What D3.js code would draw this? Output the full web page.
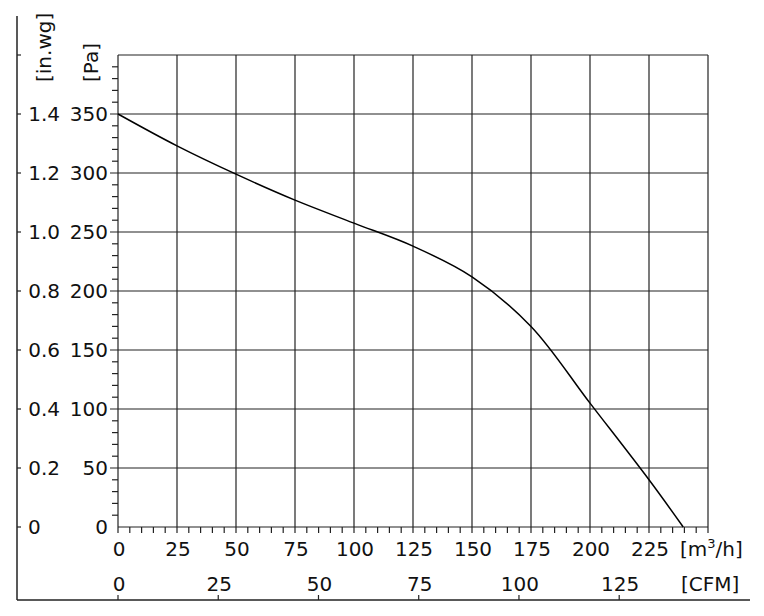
<!DOCTYPE html>
<html>
<head>
<meta charset="utf-8">
<script src="https://cdn.jsdelivr.net/npm/d3@7"></script>
<style>
  body { margin: 0; background: #fff; }
  text { font-family: "DejaVu Sans", Verdana, sans-serif; font-size: 20px; fill: #111; }
</style>
</head>
<body>
<div id="chart"></div>
<script>
// fan curve: airflow [m3/h] and static pressure [Pa]
const flow     = [0, 25, 50, 75, 100, 125, 150, 175, 200, 225, 239.5];
const pressure = [350, 323, 299, 277, 257.5, 238, 212, 170, 105, 40, 0];

const flowTicks  = [0, 25, 50, 75, 100, 125, 150, 175, 200, 225, 250];
const paTicks    = [0, 50, 100, 150, 200, 250, 300, 350, 400];
const inwgTicks  = [0, 0.2, 0.4, 0.6, 0.8, 1.0, 1.2, 1.4, 1.6];
const cfmTicks   = [0, 25, 50, 75, 100, 125];

const W = 764, H = 616;
const plotL = 118, plotR = 708, plotT = 55, plotB = 527;

const svg = d3.select("#chart").append("svg")
    .attr("width", W)
    .attr("height", H);

const x = d3.scaleLinear().domain([0, 250]).range([plotL, plotR]);
const y = d3.scaleLinear().domain([0, 400]).range([plotB, plotT]);
const yIn = d3.scaleLinear().domain([0, 1.6]).range([plotB, plotT]);
const xCfm = d3.scaleLinear().domain([0, 250 / 1.699]).range([plotL, plotR]);

// outer frame (left + bottom)
svg.append("line").attr("x1", 17).attr("x2", 17).attr("y1", 16).attr("y2", 600)
    .attr("stroke", "#222").attr("stroke-width", 1.5);
svg.append("line").attr("x1", 17).attr("x2", 750).attr("y1", 600).attr("y2", 600)
    .attr("stroke", "#222").attr("stroke-width", 1.5);

// grid
svg.append("g").selectAll("line")
    .data(flowTicks)
    .enter().append("line")
    .attr("x1", d => x(d)).attr("x2", d => x(d))
    .attr("y1", plotT).attr("y2", plotB)
    .attr("stroke", "#222").attr("stroke-width", 1.2);

svg.append("g").selectAll("line")
    .data(paTicks)
    .enter().append("line")
    .attr("x1", d => d === 0 || d === 400 ? plotL : plotL - 8).attr("x2", plotR)
    .attr("y1", d => y(d)).attr("y2", d => y(d))
    .attr("stroke", "#222").attr("stroke-width", 1.2);

// minor ticks
svg.append("g").selectAll("line")
    .data(d3.range(0, 401, 10).filter(d => d % 50 !== 0))
    .enter().append("line")
    .attr("x1", plotL - 6).attr("x2", plotL)
    .attr("y1", d => y(d)).attr("y2", d => y(d))
    .attr("stroke", "#222").attr("stroke-width", 1.2);

svg.append("g").selectAll("line")
    .data(d3.range(0, 251, 5))
    .enter().append("line")
    .attr("x1", d => x(d)).attr("x2", d => x(d))
    .attr("y1", plotB).attr("y2", plotB + 6)
    .attr("stroke", "#222").attr("stroke-width", 1.2);

// in.wg ticks on the outer axis
svg.append("g").selectAll("line")
    .data(inwgTicks)
    .enter().append("line")
    .attr("x1", 17).attr("x2", 21)
    .attr("y1", d => yIn(d)).attr("y2", d => yIn(d))
    .attr("stroke", "#222").attr("stroke-width", 1.2);

// CFM ticks on the outer bottom
svg.append("g").selectAll("line")
    .data(cfmTicks)
    .enter().append("line")
    .attr("x1", d => xCfm(d)).attr("x2", d => xCfm(d))
    .attr("y1", 595).attr("y2", 600)
    .attr("stroke", "#222").attr("stroke-width", 1.2);

// labels
svg.append("g").selectAll("text")
    .data(paTicks.slice(0, 8))
    .enter().append("text")
    .attr("x", 108).attr("y", d => y(d) + 7)
    .attr("text-anchor", "end")
    .text(d => d);

svg.append("g").selectAll("text")
    .data(inwgTicks.slice(0, 8))
    .enter().append("text")
    .attr("x", d => d === 0 ? 28 : 60).attr("y", d => yIn(d) + 7)
    .attr("text-anchor", d => d === 0 ? "start" : "end")
    .text(d => d === 0 ? "0" : d.toFixed(1));

svg.append("g").selectAll("text")
    .data(flowTicks.slice(0, 10))
    .enter().append("text")
    .attr("x", d => x(d) + 1).attr("y", 556)
    .attr("text-anchor", "middle")
    .text(d => d);

svg.append("g").selectAll("text")
    .data(cfmTicks)
    .enter().append("text")
    .attr("x", d => xCfm(d) + 1).attr("y", 591)
    .attr("text-anchor", "middle")
    .text(d => d);

// units
const m3 = svg.append("text").attr("x", 680).attr("y", 556);
m3.append("tspan").text("[m");
m3.append("tspan").attr("dy", -8).style("font-size", "13px").text("3");
m3.append("tspan").attr("dy", 8).text("/h]");

svg.append("text").attr("x", 681).attr("y", 591).text("[CFM]");

svg.append("text")
    .attr("transform", "translate(51,82) rotate(-90)")
    .text("[in.wg]");
svg.append("text")
    .attr("transform", "translate(98,82) rotate(-90)")
    .text("[Pa]");

// curve
const line = d3.line()
    .x((d, i) => x(flow[i]))
    .y(d => y(d))
    .curve(d3.curveCatmullRom);

svg.append("path")
    .datum(pressure)
    .attr("d", line)
    .attr("fill", "none")
    .attr("stroke", "#000")
    .attr("stroke-width", 1.5);
</script>
</body>
</html>
